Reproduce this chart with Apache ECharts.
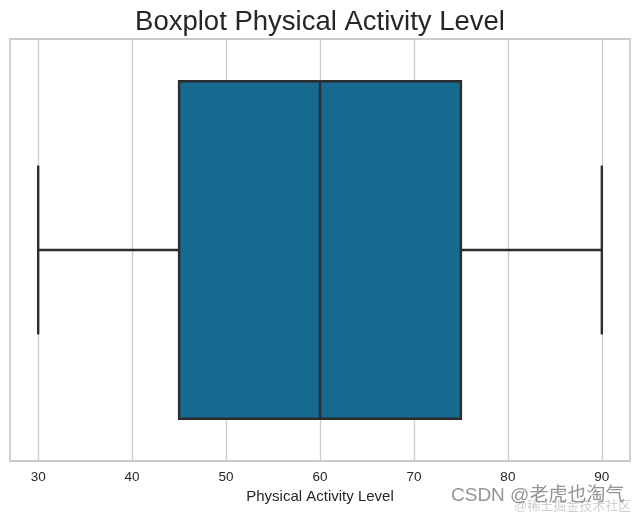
<!DOCTYPE html>
<html>
<head>
<meta charset="utf-8">
<style>html,body{margin:0;padding:0;background:#fff}#main{width:640px;height:515px}</style>
<script src="https://cdn.jsdelivr.net/npm/echarts@6/dist/echarts.min.js"></script>
</head>
<body>
<div id="main"></div>
<script>
var categories = ['Physical Activity Level'];
// min, Q1, median, Q3, max
var boxValues = [30, 45, 60, 75, 90];
var tickLabels = [30, 40, 50, 60, 70, 80, 90];

var chart = echarts.init(document.getElementById('main'), null, {renderer: 'canvas'});

// seaborn style box: caps are half the box height, so the built-in boxplot won't do
function renderBox(params, api) {
    var y = api.coord([api.value(1), 0])[1];
    var band = api.size([0, 1])[1];
    var half = band * 0.4;
    var capHalf = half / 2;
    var lo = api.coord([api.value(2), 0])[0];
    var q1 = api.coord([api.value(3), 0])[0];
    var med = api.coord([api.value(4), 0])[0];
    var q3 = api.coord([api.value(5), 0])[0];
    var hi = api.coord([api.value(6), 0])[0];
    var lineStyle = {stroke: '#2d2d2d', lineWidth: 2.4, fill: null};
    function seg(x1, y1, x2, y2) {
        return {type: 'line', shape: {x1: x1, y1: y1, x2: x2, y2: y2}, style: lineStyle};
    }
    return {
        type: 'group',
        children: [
            seg(lo, y, q1, y),
            seg(q3, y, hi, y),
            seg(lo, y - capHalf, lo, y + capHalf),
            seg(hi, y - capHalf, hi, y + capHalf),
            {type: 'rect', shape: {x: q1, y: y - half, width: q3 - q1, height: half * 2},
                style: {fill: '#176a8f', stroke: '#2d2d2d', lineWidth: 2.4}},
            seg(med, y - half, med, y + half)
        ]
    };
}

chart.setOption({
    animation: false,
    title: {
        text: 'Boxplot Physical Activity Level',
        left: 315,
        textAlign: 'center',
        top: 3,
        textStyle: {fontFamily: 'Liberation Sans', fontSize: 27.5, fontWeight: 'normal', color: '#262626'}
    },
    grid: {left: 10, right: 10, top: 39, bottom: 54, show: true, borderColor: '#cccccc', borderWidth: 1.8},
    xAxis: {
        type: 'value',
        min: 27,
        max: 93,
        name: 'Physical Activity Level',
        nameLocation: 'middle',
        nameGap: 28,
        nameTextStyle: {fontFamily: 'Liberation Sans', fontSize: 15, color: '#262626'},
        axisLine: {show: false},
        axisTick: {show: false, customValues: tickLabels},
        axisLabel: {
            fontFamily: 'Liberation Sans', fontSize: 13.5, color: '#262626', margin: 9,
            customValues: tickLabels
        },
        splitLine: {show: true, lineStyle: {color: '#cccccc', width: 1.3}}
    },
    yAxis: {
        type: 'category',
        data: categories,
        axisLine: {show: false},
        axisTick: {show: false},
        axisLabel: {show: false},
        splitLine: {show: false}
    },
    series: [{
        type: 'custom',
        renderItem: renderBox,
        encode: {x: [2, 3, 4, 5, 6], y: 1},
        data: [[0, categories[0]].concat(boxValues)]
    }],
    graphic: [{
        type: 'text',
        left: 451,
        top: 486,
        z: 20,
        style: {text: 'CSDN @老虎也淘气', fontFamily: '"Liberation Sans","Noto Sans CJK SC"', fontSize: 19, fill: 'rgba(120,120,120,0.8)'}
    }, {
        type: 'text',
        left: 514,
        top: 500,
        z: 19,
        style: {text: '@稀土掘金技术社区', fontFamily: '"Liberation Sans","Noto Sans CJK SC"', fontSize: 13, fill: 'rgba(170,170,170,0.55)'}
    }]
});
</script>
</body>
</html>
